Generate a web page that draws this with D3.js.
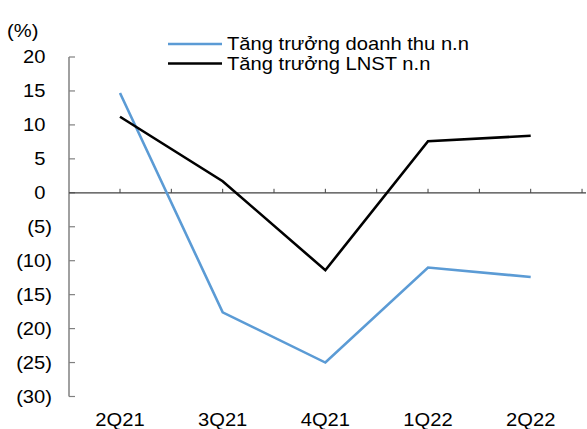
<!DOCTYPE html>
<html>
<head>
<meta charset="utf-8">
<script src="https://cdn.jsdelivr.net/npm/d3@7"></script>
<style>
  html, body { margin: 0; padding: 0; background: #fff; }
  svg text { font-family: Arial, "Liberation Sans", sans-serif; font-size: 18px; fill: #000; }
</style>
</head>
<body>
<svg id="chart" width="587" height="429"></svg>
<script>
const categories = ["2Q21", "3Q21", "4Q21", "1Q22", "2Q22"];
const revenueGrowth = [14.7, -17.6, -25.0, -11.0, -12.4];
const profitGrowth = [11.2, 1.7, -11.4, 7.6, 8.4];
const yTicks = [20, 15, 10, 5, 0, -5, -10, -15, -20, -25, -30];
const seriesNames = ["Tăng trưởng doanh thu n.n", "Tăng trưởng LNST n.n"];
const unitLabel = "(%)";

const svg = d3.select("#chart");

const y = d3.scaleLinear().domain([-30, 20]).range([396.5, 57]);
const x = d3.scalePoint().domain(categories).range([120, 530.7]);
const axisX = 69;
const fmt = v => v < 0 ? "(" + Math.abs(v) + ")" : String(v);

// text is set slightly wide, anchored at (px, py)
const stretch = 1.12;
const place = (sel, px, py) =>
  sel.attr("x", 0).attr("y", 0)
     .attr("transform", (d, i) => `translate(${px(d, i)},${py(d, i)}) scale(${stretch},1)`);

// vertical value axis
svg.append("line")
  .attr("x1", axisX).attr("x2", axisX)
  .attr("y1", y(20)).attr("y2", y(-30))
  .attr("stroke", "#808080").attr("stroke-width", 1.5);

svg.selectAll(".ytick").data(yTicks).join("line")
  .attr("x1", axisX).attr("x2", axisX + 6)
  .attr("y1", d => y(d)).attr("y2", d => y(d))
  .attr("stroke", "#808080").attr("stroke-width", 1.2);

// tick labels: positives leave room for a closing parenthesis
svg.selectAll(".ylab").data(yTicks).join("text")
  .attr("text-anchor", "end")
  .attr("dy", "0.36em")
  .text(fmt)
  .call(place, d => d < 0 ? 52 : 45.5, d => y(d));

// zero line with category and half-step ticks
svg.append("line")
  .attr("x1", axisX).attr("x2", 586)
  .attr("y1", y(0)).attr("y2", y(0))
  .attr("stroke", "#404040").attr("stroke-width", 1.2);

const half = x.step() / 2;
const tickXs = [];
categories.forEach(c => { tickXs.push(x(c)); tickXs.push(x(c) + half); });
svg.selectAll(".xtick").data(tickXs).join("line")
  .attr("x1", d => d).attr("x2", d => d)
  .attr("y1", y(0)).attr("y2", y(0) - 4)
  .attr("stroke", "#404040").attr("stroke-width", 1);

// category labels
svg.selectAll(".xlab").data(categories).join("text")
  .attr("text-anchor", "middle")
  .text(d => d)
  .call(place, d => x(d), () => 426);

svg.append("text").datum(unitLabel).text(unitLabel)
  .call(place, () => 7, () => 37);

// series lines
const line = d3.line().x((d, i) => x(categories[i])).y(d => y(d));
const colors = ["#5B9BD5", "#000000"];
[revenueGrowth, profitGrowth].forEach((s, k) => {
  svg.append("path")
    .datum(s)
    .attr("d", line)
    .attr("fill", "none")
    .attr("stroke", colors[k])
    .attr("stroke-width", 2.6)
    .attr("stroke-linejoin", "miter");
});

// legend
const legend = svg.append("g");
seriesNames.forEach((name, k) => {
  const ly = 44 + k * 19.5;
  legend.append("line")
    .attr("x1", 168).attr("x2", 222)
    .attr("y1", ly).attr("y2", ly)
    .attr("stroke", colors[k]).attr("stroke-width", 2.6);
  legend.append("text").datum(name)
    .attr("dy", "0.36em")
    .text(name)
    .call(place, () => 227, () => ly);
});
</script>
</body>
</html>
